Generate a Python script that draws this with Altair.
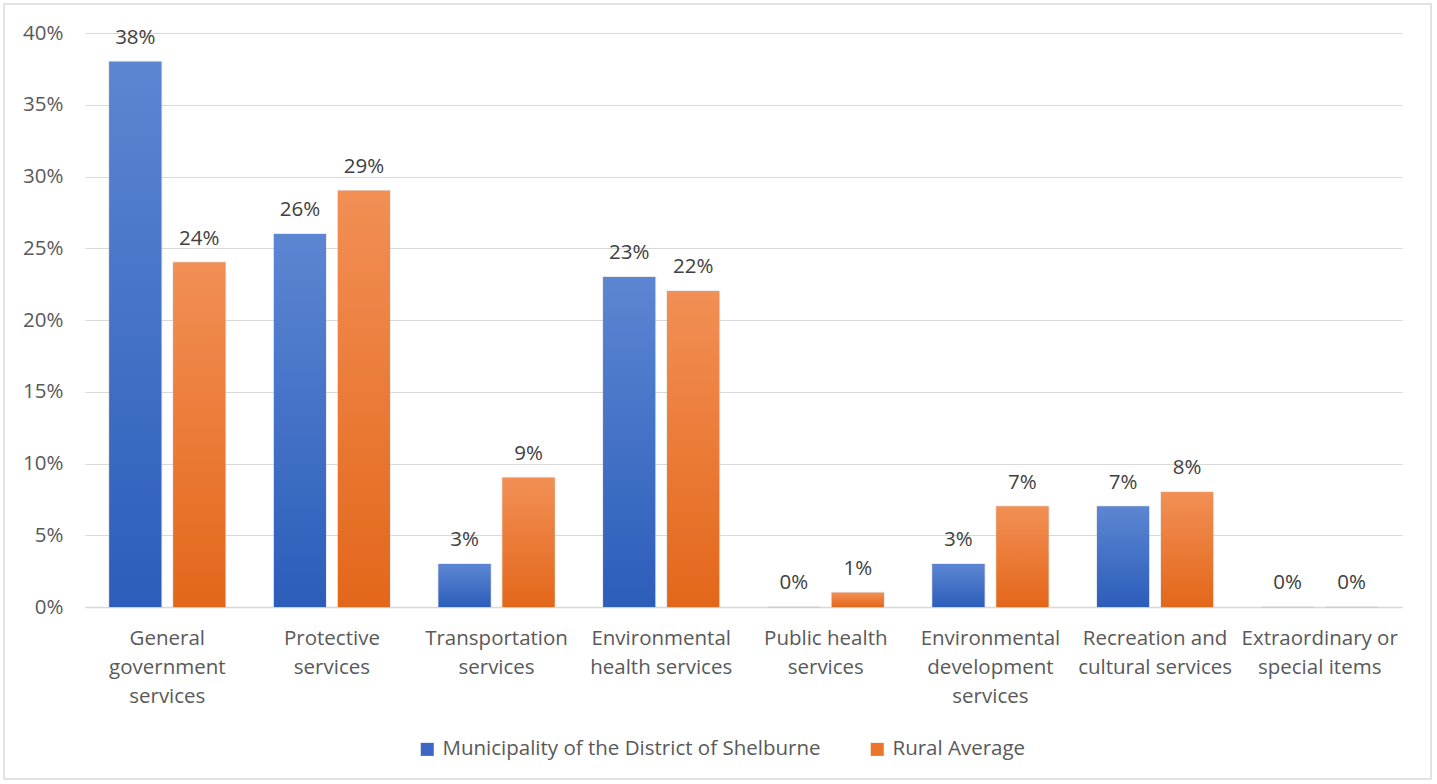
import altair as alt
import pandas as pd

categories = [
    "General government services",
    "Protective services",
    "Transportation services",
    "Environmental health services",
    "Public health services",
    "Environmental development services",
    "Recreation and cultural services",
    "Extraordinary or special items",
]
label_lines = [
    ["General", "government", "services"],
    ["Protective", "services"],
    ["Transportation", "services"],
    ["Environmental", "health services"],
    ["Public health", "services"],
    ["Environmental", "development", "services"],
    ["Recreation and", "cultural services"],
    ["Extraordinary or", "special items"],
]
series_names = ["Municipality of the District of Shelburne", "Rural Average"]
district = [38, 26, 3, 23, 0, 3, 7, 0]
rural = [24, 29, 9, 22, 1, 7, 8, 0]

rows = []
for cat, d, r in zip(categories, district, rural):
    rows.append({"category": cat, "series": series_names[0], "value": d})
    rows.append({"category": cat, "series": series_names[1], "value": r})
df = pd.DataFrame(rows)

FONT = "Open Sans"
FS = 20.5
BLUE = "#3A68C4"
ORANGE = "#EB7528"
TEXT = "#404040"
AXIS = "#595959"
GRID = "#D9D9D9"

# multi-line category labels
expr = "datum.label"
for cat, lines in reversed(list(zip(categories, label_lines))):
    arr = "[" + ",".join("'" + s + "'" for s in lines) + "]"
    expr = f"datum.label == '{cat}' ? {arr} : ({expr})"

x_enc = alt.X(
    "category:N",
    sort=categories,
    scale=alt.Scale(paddingInner=0, paddingOuter=0),
    axis=alt.Axis(
        title=None, labelAngle=0, labelExpr=expr, labelFontSize=FS,
        labelColor=AXIS, labelFont=FONT, labelPadding=21, labelLineHeight=29,
        ticks=False, domainColor=GRID, domainWidth=1.5, labelBaseline="top",
        labelLimit=300,
    ),
)
xoff_enc = alt.XOffset(
    "series:N", sort=series_names,
    scale=alt.Scale(domain=series_names, paddingInner=0.1875, paddingOuter=0.38),
)
y_enc = alt.Y(
    "value:Q",
    scale=alt.Scale(domain=[0, 40], nice=False),
    axis=alt.Axis(
        title=None, values=list(range(0, 45, 5)), labelExpr="datum.value + '%'",
        labelFontSize=FS, labelColor=AXIS, labelFont=FONT, labelPadding=22,
        ticks=False, domain=False, gridColor=GRID, gridWidth=1,
    ),
)

base = alt.Chart(df).encode(x=x_enc, xOffset=xoff_enc, y=y_enc)

# solid bars carry the legend
legend_bars = base.mark_bar(stroke="#BFBFBF", strokeOpacity=0.35, strokeWidth=2).encode(
    color=alt.Color(
        "series:N", sort=series_names,
        scale=alt.Scale(domain=series_names, range=[BLUE, ORANGE]),
        legend=alt.Legend(
            title=None, orient="none", direction="horizontal", legendX=332, legendY=706,
            symbolType="square", symbolSize=170, symbolStrokeWidth=0,
            labelFontSize=FS, labelColor=AXIS, labelFont=FONT, columnPadding=46,
            labelOffset=5, labelLimit=500,
        ),
    )
)


def grad(top, bottom):
    return alt.Gradient(
        gradient="linear",
        stops=[alt.GradientStop(color=top, offset=0), alt.GradientStop(color=bottom, offset=1)],
        x1=0, x2=0, y1=0, y2=1,
    )


blue_bars = base.transform_filter(alt.datum.series == series_names[0]).mark_bar(
    fill=grad("#5C86D2", "#2C5DBA")
)
orange_bars = base.transform_filter(alt.datum.series == series_names[1]).mark_bar(
    fill=grad("#F28F55", "#E3671A")
)

labels = base.transform_calculate(txt="datum.value + '%'").mark_text(
    baseline="bottom", dy=-14, fontSize=FS, font=FONT, color=TEXT
).encode(text="txt:N")

frame = alt.Chart(pd.DataFrame({"k": [0]})).mark_rect(
    fill=None, stroke=GRID, strokeWidth=1.5
).encode(
    x=alt.value(-81), x2=alt.value(1346), y=alt.value(-29), y2=alt.value(746)
)

chart = alt.layer(legend_bars, blue_bars, orange_bars, labels, frame).properties(
    width=1317, height=574,
    padding={"left": 85, "top": 33, "right": 35, "bottom": 177},
    autosize=alt.AutoSizeParams(type="none"),
    background="white",
).configure_view(stroke=None)

chart.save("out.html", embed_options={"renderer": "svg", "actions": False})
